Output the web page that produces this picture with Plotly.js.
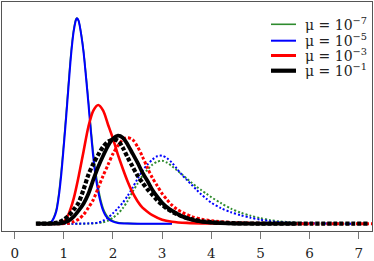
<!DOCTYPE html>
<html>
<head>
<meta charset="utf-8">
<script src="https://cdn.plot.ly/plotly-3.0.1.min.js"></script>
<style>html,body{margin:0;padding:0;background:#fff;}#chart{width:374px;height:261px;}</style>
</head>
<body>
<div id="chart"></div>
<script>
// ---- data ----
const legendLabels = ["μ = 10<sup>−7</sup>", "μ = 10<sup>−5</sup>", "μ = 10<sup>−3</sup>", "μ = 10<sup>−1</sup>"];
const xTicks = [0, 1, 2, 3, 4, 5, 6, 7];

const greenSolidX = [0.45,0.6,0.7,0.75,0.8,0.85,0.9,0.95,1.0,1.05,1.1,1.15,1.2,1.25,1.27,1.3,1.35,1.4,1.45,1.5,1.55,1.6,1.65,1.7,1.75,1.8,1.85,1.9,2.0,2.1,2.3,2.6,3.2];
const greenSolidY = [0,0.003,0.012,0.025,0.07,0.15,0.31,0.54,0.82,1.12,1.44,1.73,1.94,2.05,2.055,2.03,1.91,1.73,1.49,1.23,0.96,0.71,0.51,0.36,0.24,0.155,0.1,0.065,0.028,0.012,0.003,0,0];

const blueSolidX = [0.45,0.6,0.7,0.75,0.8,0.85,0.9,0.95,1.0,1.05,1.1,1.15,1.2,1.25,1.27,1.3,1.35,1.4,1.45,1.5,1.55,1.6,1.65,1.7,1.75,1.8,1.85,1.9,2.0,2.1,2.3,2.6,3.2];
const blueSolidY = [0,0.002,0.008,0.02,0.06,0.13,0.28,0.5,0.78,1.08,1.4,1.7,1.92,2.04,2.054,2.03,1.9,1.72,1.47,1.2,0.92,0.66,0.46,0.32,0.21,0.13,0.08,0.05,0.02,0.008,0.002,0,0];

const redSolidX = [0.45,0.8,0.9,1.0,1.1,1.2,1.3,1.4,1.5,1.6,1.7,1.8,1.9,2.0,2.1,2.2,2.3,2.4,2.5,2.6,2.7,2.8,3.0,3.2,3.5,4.0,4.5,5.0];
const redSolidY = [0,0,0.002,0.02,0.1,0.25,0.47,0.72,0.97,1.13,1.187,1.13,0.99,0.85,0.69,0.55,0.42,0.31,0.225,0.16,0.12,0.085,0.04,0.02,0.008,0.002,0,0];

const blackSolidX = [0.45,0.8,0.9,1.0,1.1,1.2,1.3,1.4,1.5,1.6,1.7,1.8,1.9,2.0,2.1,2.2,2.3,2.4,2.5,2.6,2.7,2.8,2.9,3.0,3.1,3.2,3.4,3.6,3.8,4.0,4.5,5.0,5.74];
const blackSolidY = [0,0,0.002,0.01,0.03,0.07,0.13,0.2,0.3,0.44,0.57,0.68,0.78,0.85,0.88,0.86,0.79,0.7,0.61,0.51,0.43,0.34,0.27,0.21,0.165,0.13,0.075,0.04,0.02,0.01,0.002,0,0];

const greenDotX = [0.5,1.3,1.6,1.8,1.9,2.0,2.1,2.2,2.3,2.4,2.5,2.6,2.7,2.8,2.9,3.0,3.1,3.2,3.3,3.4,3.5,3.6,3.7,3.8,3.9,4.0,4.2,4.4,4.6,4.8,5.0,5.2,5.4,5.7,6.0,6.5,7.0];
const greenDotY = [0,0,0.003,0.015,0.03,0.06,0.1,0.155,0.23,0.32,0.4,0.48,0.54,0.59,0.62,0.63,0.61,0.575,0.535,0.495,0.45,0.41,0.37,0.335,0.3,0.265,0.205,0.15,0.11,0.08,0.055,0.035,0.022,0.012,0.005,0.001,0];

const blueDotX = [0.5,1.2,1.5,1.7,1.8,1.9,2.0,2.1,2.2,2.3,2.4,2.5,2.6,2.7,2.8,2.9,3.0,3.1,3.2,3.3,3.4,3.5,3.6,3.7,3.8,3.9,4.0,4.2,4.4,4.6,4.8,5.0,5.2,5.5,6.0,6.5,7.0];
const blueDotY = [0,0,0.003,0.012,0.03,0.06,0.105,0.155,0.21,0.28,0.36,0.45,0.53,0.59,0.64,0.675,0.68,0.655,0.61,0.55,0.49,0.44,0.39,0.34,0.29,0.25,0.21,0.155,0.115,0.085,0.06,0.04,0.025,0.012,0.004,0.001,0];

const redDotX = [0.45,0.9,1.1,1.2,1.3,1.4,1.5,1.6,1.7,1.8,1.9,2.0,2.1,2.2,2.3,2.4,2.5,2.6,2.7,2.8,2.9,3.0,3.1,3.2,3.3,3.4,3.6,3.8,4.0,4.5,5.0,5.5,6.5,7.4];
const redDotY = [0,0,0.005,0.02,0.045,0.09,0.16,0.24,0.36,0.48,0.59,0.7,0.78,0.84,0.86,0.84,0.77,0.67,0.56,0.46,0.38,0.3,0.24,0.185,0.145,0.115,0.072,0.045,0.03,0.01,0.004,0.001,0,0];

const blackDotX = [0.43,0.7,0.8,0.9,1.0,1.1,1.2,1.3,1.4,1.5,1.6,1.7,1.8,1.9,2.0,2.1,2.2,2.3,2.4,2.5,2.6,2.7,2.8,2.9,3.0,3.1,3.2,3.3,3.4,3.6,3.8,4.0,4.5,5.0,6.0,7.2];
const blackDotY = [0,0.002,0.005,0.015,0.04,0.08,0.14,0.21,0.34,0.49,0.6,0.69,0.77,0.82,0.84,0.83,0.76,0.66,0.57,0.48,0.41,0.345,0.29,0.235,0.19,0.15,0.12,0.095,0.075,0.045,0.025,0.015,0.004,0.001,0,0];

// ---- styles ----
const GREEN = "#2e8b2e", BLUE = "#0000ff", RED = "#ff0000", BLACK = "#000000";
const FONT = "DejaVu Serif, serif";
function tr(x, y, color, width, dash) {
  return {x: x, y: y, type: "scatter", mode: "lines", hoverinfo: "skip", showlegend: false,
          line: {color: color, width: width, dash: dash, shape: "spline", smoothing: 0.8}};
}
const data = [
  tr(greenDotX, greenDotY, GREEN, 2, "2px,2px"),
  tr(blueDotX, blueDotY, BLUE, 2, "2px,2px"),
  tr(greenSolidX, greenSolidY, GREEN, 1.6, "solid"),
  tr(blueSolidX, blueSolidY, BLUE, 2, "solid"),
  tr(redDotX, redDotY, RED, 3, "3px,2px"),
  tr(redSolidX, redSolidY, RED, 2.6, "solid"),
  tr(blackDotX, blackDotY, BLACK, 4.2, "4px,2px"),
  tr(blackSolidX, blackSolidY, BLACK, 3.8, "solid")
];

// legend drawn as shapes + annotations in paper coordinates
const W = 374, H = 261, ML = 2, MR = 2, MT = 2, MB = 30;
const PW = W - ML - MR, PH = H - MT - MB;
const px = v => (v - ML) / PW;
const py = v => 1 - (v - MT) / PH;
const legColors = [GREEN, BLUE, RED, BLACK];
const legWidths = [1.6, 2, 3, 4.2];
const legRows = [24.3, 40.7, 55.5, 70.7];
const shapes = [], annotations = [];
legRows.forEach((r, i) => {
  shapes.push({type: "line", xref: "paper", yref: "paper", x0: px(271), x1: px(296), y0: py(r), y1: py(r),
               line: {color: legColors[i], width: legWidths[i]}});
  annotations.push({xref: "paper", yref: "paper", x: px(303), y: py(r - 0.5), xanchor: "left", yanchor: "middle",
                    text: legendLabels[i], showarrow: false,
                    font: {family: FONT, size: 14, color: "#222"}});
});

const layout = {
  width: W, height: H,
  margin: {l: ML, r: MR, t: MT, b: MB, pad: 0},
  paper_bgcolor: "#fff", plot_bgcolor: "#fff",
  showlegend: false,
  xaxis: {range: [-0.258, 7.27], tickvals: xTicks, ticktext: xTicks.map(String),
          ticks: "outside", ticklen: 7, tickwidth: 1, tickcolor: "#777",
          ticklabelstandoff: 3,
          showline: true, mirror: true, linecolor: "#555", linewidth: 1,
          showgrid: false, zeroline: false,
          tickfont: {family: FONT, size: 13.5, color: "#222"}},
  yaxis: {range: [-0.073, 2.217], showticklabels: false, ticks: "",
          showline: true, mirror: true, linecolor: "#555", linewidth: 1,
          showgrid: false, zeroline: false},
  shapes: shapes, annotations: annotations
};
Plotly.newPlot("chart", data, layout, {staticPlot: true, displayModeBar: false});
</script>
</body>
</html>
